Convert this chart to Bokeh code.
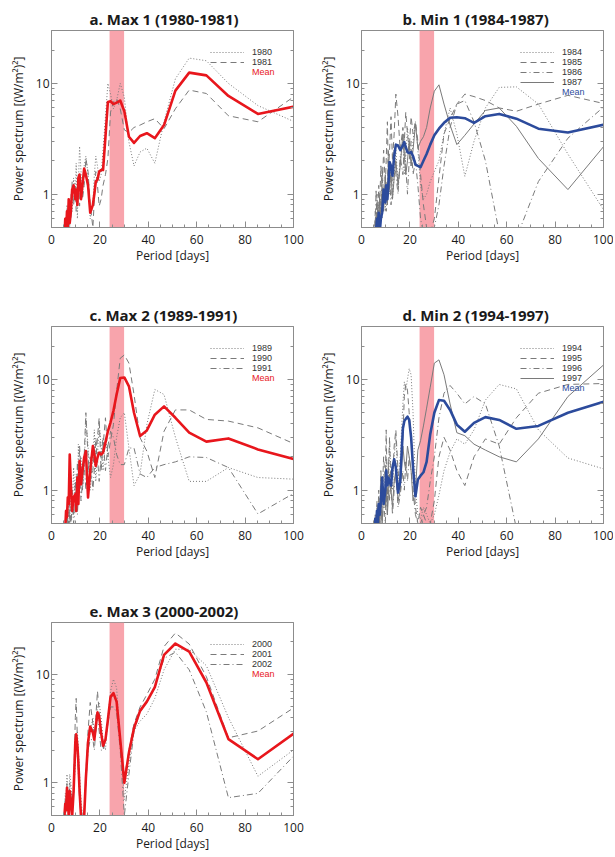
from bokeh.plotting import figure
from bokeh.layouts import gridplot
from bokeh.models import (Range1d, FixedTicker, LogAxis, BoxAnnotation,
                          Legend, LegendItem, NumeralTickFormatter)
from bokeh.embed import file_html
from bokeh.resources import INLINE

# ---------------- data ----------------
PERIOD = [102.4, 85.3, 73.1, 64.0, 56.9, 51.2, 46.5, 42.7, 39.4, 36.6, 34.1, 32.0, 30.1, 28.4, 26.9, 25.6, 24.4,
          23.3, 22.3, 21.3, 20.5, 19.7, 19.0, 18.3, 17.7, 17.1, 16.0, 15.1, 14.2, 13.5, 12.8, 12.2,
          11.6, 11.1, 10.7, 10.2, 9.85, 9.14, 8.53, 8.0, 7.53, 7.11, 6.74, 6.4, 6.02, 5.69, 5.33]
BAND = [24, 30]
X_TICKS = [0, 20, 40, 60, 80, 100]
X_MINOR = [5, 10, 15, 25, 30, 35, 45, 50, 55, 65, 70, 75, 85, 90, 95]
Y_TICKS = [1, 10]
Y_MINOR = [0.5, 0.6, 0.7, 0.8, 0.9, 2, 3, 4, 5, 6, 7, 8, 9, 20, 30]

A_1980 = [4.3, 6.3, 10.0, 16.0, 16.9, 11.0, 4.5, 1.9, 2.6, 2.4, 1.8, 2.95, 7.5, 10.0, 7.0, 5.9, 8.0,
          10.0, 5.0, 2.5, 1.5, 1.3, 1.8, 2.2, 1.5, 0.8, 0.6, 1.5, 2.2, 1.8, 1.0, 1.6,
          2.7, 1.2, 0.6, 1.9, 1.0, 1.4, 0.7, 1.0, 0.5, 0.9, 0.45, 0.8, 0.4, 0.6, 0.4]
A_1981 = [8.2, 4.5, 5.1, 8.1, 8.7, 5.9, 3.9, 4.8, 4.5, 4.2, 4.0, 3.6, 3.8, 5.9, 7.3, 6.8, 5.5,
          2.1, 1.5, 1.2, 0.9, 0.78, 1.2, 1.6, 0.9, 0.5, 0.8, 1.6, 2.1, 1.2, 0.9, 1.2,
          0.78, 1.5, 0.9, 0.7, 1.2, 0.8, 1.3, 0.6, 0.9, 0.5, 0.7, 0.4, 0.6, 0.4, 0.45]
A_MEAN = [6.3, 5.3, 7.7, 11.8, 12.5, 8.6, 4.2, 3.2, 3.55, 3.35, 2.9, 3.3, 5.6, 7.0, 6.7, 6.5, 6.9,
          6.8, 3.3, 1.65, 1.65, 1.6, 1.35, 1.3, 1.0, 0.8, 0.68, 1.2, 1.5, 1.7, 1.2, 0.9,
          1.5, 1.4, 0.8, 1.1, 0.9, 1.2, 1.1, 0.7, 0.55, 0.9, 0.5, 0.7, 0.45, 0.6, 0.4]

B_1984 = [0.6, 2.3, 6.5, 9.3, 9.2, 6.0, 3.0, 1.45, 3.5, 6.0, 3.5, 2.0, 1.6, 1.3, 1.0, 0.9, 1.2,
          2.5, 4.5, 3.0, 1.8, 2.5, 4.0, 2.2, 1.5, 3.0, 2.0, 1.2, 2.5, 1.5, 0.9, 1.8,
          1.0, 1.6, 0.8, 1.3, 0.7, 1.1, 0.6, 0.9, 0.5, 0.8, 0.45, 0.7, 0.4, 0.6, 0.45]
B_1985 = [6.4, 7.8, 6.5, 5.6, 6.0, 7.0, 7.6, 8.0, 6.5, 4.8, 3.5, 1.4, 0.6, 0.45, 0.5, 0.8, 1.5,
          3.0, 4.5, 3.5, 5.0, 2.5, 3.5, 5.5, 3.0, 4.0, 2.5, 5.0, 8.0, 3.5, 2.0, 5.0,
          2.5, 1.5, 4.5, 2.0, 1.2, 2.5, 1.0, 1.8, 0.8, 1.2, 0.6, 1.0, 0.5, 0.7, 0.4]
B_1986 = [6.8, 3.2, 1.3, 0.4, 0.45, 2.0, 4.5, 7.0, 6.5, 4.0, 1.8, 0.8, 0.5, 0.4, 0.4, 0.45, 0.6,
          1.2, 2.0, 1.5, 3.0, 2.0, 1.0, 1.8, 2.8, 1.5, 2.2, 1.0, 1.5, 2.5, 1.2, 0.8,
          1.5, 2.5, 1.0, 0.7, 1.2, 0.9, 1.8, 0.6, 1.0, 0.5, 0.8, 0.45, 1.1, 0.5, 0.4]
B_1987 = [3.1, 1.1, 2.1, 4.1, 6.0, 5.7, 4.3, 3.4, 2.8, 4.2, 6.5, 9.7, 8.5, 6.0, 4.0, 3.3, 3.0,
          2.6, 4.3, 2.5, 1.8, 3.0, 2.0, 1.5, 2.2, 3.5, 1.8, 1.2, 2.0, 1.4, 0.9, 1.6,
          1.1, 2.0, 0.8, 1.0, 1.5, 0.7, 1.1, 0.6, 0.9, 0.5, 0.75, 0.45, 0.6, 0.4, 0.5]
B_MEAN = [4.35, 3.6, 3.9, 4.8, 5.3, 5.05, 4.4, 4.85, 4.95, 4.9, 4.4, 3.9, 3.4, 2.8, 2.3, 2.0, 1.75,
          1.8, 1.85, 2.2, 2.4, 2.35, 2.4, 2.65, 2.95, 2.75, 2.5, 2.75, 2.8, 2.2, 1.47, 1.8,
          1.95, 1.2, 0.9, 1.2, 0.84, 1.1, 0.68, 0.6, 0.45, 0.68, 0.48, 0.6, 0.45, 0.5, 0.4]

C_1989 = [1.25, 1.3, 1.6, 1.2, 1.2, 3.0, 7.3, 8.1, 3.9, 1.4, 1.1, 2.4, 5.0, 4.5, 3.0, 1.7, 1.3,
          2.0, 3.0, 1.5, 2.5, 4.0, 2.0, 1.2, 3.5, 2.0, 1.0, 2.5, 4.5, 1.5, 1.0, 2.0,
          1.2, 2.6, 0.8, 1.4, 0.7, 1.6, 0.6, 1.0, 0.5, 0.8, 0.45, 0.7, 0.4, 0.55, 0.4]
C_1990 = [2.5, 3.65, 4.2, 4.35, 5.3, 5.3, 3.4, 1.3, 2.25, 2.97, 7.3, 14.0, 16.6, 15.5, 7.8, 3.9, 2.8,
          2.0, 4.5, 2.5, 1.5, 4.5, 3.0, 1.8, 2.5, 1.5, 1.2, 2.0, 5.0, 2.0, 1.0, 1.5,
          2.5, 1.0, 1.8, 0.8, 1.2, 0.6, 1.0, 0.5, 0.8, 0.45, 0.7, 0.4, 0.55, 0.4, 0.45]
C_1991 = [1.0, 0.61, 1.6, 1.97, 2.0, 1.8, 1.7, 1.6, 1.3, 1.4, 2.4, 2.4, 1.7, 1.7, 2.1, 3.0, 3.4,
          2.5, 1.5, 3.0, 2.0, 1.2, 2.0, 3.0, 1.5, 1.0, 2.0, 1.5, 1.0, 1.8, 1.2, 0.8,
          1.5, 0.9, 0.6, 1.0, 0.7, 0.5, 0.8, 0.45, 0.6, 0.4, 0.5, 0.4, 0.45, 0.4, 0.4]
C_MEAN = [1.85, 2.33, 2.93, 2.74, 3.3, 4.5, 5.7, 4.8, 3.46, 3.08, 5.0, 8.65, 10.4, 10.3, 7.3, 5.2, 4.1,
          3.4, 2.7, 2.18, 2.1, 2.18, 1.97, 1.65, 2.1, 2.5, 1.5, 0.86, 2.25, 1.97, 1.5, 1.13,
          1.83, 0.75, 1.3, 0.65, 0.92, 0.86, 0.65, 1.13, 2.1, 0.75, 0.86, 0.57, 0.65, 0.45, 0.5]

D_1994 = [1.5, 1.95, 3.5, 8.2, 9.0, 6.5, 3.5, 2.6, 2.9, 2.2, 1.5, 0.9, 0.6, 0.5, 0.6, 0.7, 0.55,
          0.6, 1.0, 5.0, 11.0, 12.5, 10.0, 8.0, 9.5, 6.0, 2.0, 1.2, 3.0, 2.0, 1.0, 1.5,
          2.5, 1.2, 0.8, 2.0, 1.0, 1.4, 0.7, 1.0, 0.5, 0.8, 0.45, 0.7, 0.4, 0.55, 0.4]
D_1995 = [9.2, 9.0, 7.5, 4.5, 2.6, 2.9, 2.0, 1.1, 1.5, 2.3, 3.0, 2.0, 0.8, 0.5, 0.5, 0.6, 0.7,
          0.5, 0.7, 1.5, 3.0, 5.0, 8.0, 9.0, 7.0, 3.0, 1.0, 1.5, 3.5, 2.5, 1.2, 1.0,
          3.0, 1.5, 0.8, 3.5, 1.2, 2.0, 0.8, 1.5, 0.6, 1.0, 0.5, 0.8, 0.45, 0.6, 0.4]
D_1996 = [0.3, 0.3, 0.3, 0.45, 2.5, 6.0, 7.0, 6.0, 7.5, 8.8, 7.5, 4.5, 2.0, 1.2, 0.7, 0.6, 0.5,
          0.5, 0.6, 1.0, 1.5, 2.0, 1.2, 1.8, 1.0, 1.5, 0.9, 0.7, 1.5, 1.0, 0.6, 1.2,
          0.8, 1.8, 0.6, 1.0, 0.5, 0.8, 0.45, 1.2, 0.5, 0.7, 0.4, 0.5, 0.4, 0.45, 0.4]
D_1997 = [15.0, 7.0, 2.9, 1.8, 2.0, 2.3, 2.6, 3.1, 3.3, 6.0, 11.0, 15.0, 14.0, 8.5, 5.5, 3.8, 2.8,
          2.3, 1.0, 0.8, 1.5, 2.0, 2.5, 1.5, 1.8, 2.5, 1.0, 0.8, 1.5, 1.2, 0.7, 1.0,
          1.4, 0.9, 0.6, 1.2, 0.7, 1.0, 0.5, 0.8, 0.45, 0.7, 0.4, 0.6, 0.4, 0.45, 0.4]
D_MEAN = [6.5, 5.0, 3.8, 3.58, 4.3, 4.56, 4.05, 3.37, 3.9, 5.3, 6.4, 6.5, 5.0, 3.2, 1.8, 1.45, 1.35,
          1.25, 0.88, 1.6, 3.0, 4.3, 4.6, 4.4, 4.2, 3.6, 1.2, 0.95, 1.6, 1.9, 1.6, 1.1,
          1.2, 1.3, 1.1, 1.5, 1.0, 0.75, 1.3, 0.8, 0.6, 0.75, 0.5, 0.65, 0.45, 0.55, 0.45]

E_2000 = [2.2, 1.15, 4.0, 12.0, 17.0, 17.0, 11.0, 6.0, 4.3, 3.7, 3.0, 1.5, 0.7, 2.5, 7.5, 9.0, 7.0,
          4.0, 2.0, 2.5, 4.0, 5.5, 5.0, 3.0, 2.5, 4.0, 3.0, 2.0, 1.0, 0.6, 0.5, 0.7,
          1.2, 2.0, 3.0, 2.5, 1.5, 0.8, 0.6, 1.0, 1.2, 0.6, 0.9, 1.2, 0.7, 0.8, 0.5]
E_2001 = [5.3, 3.0, 2.6, 9.5, 19.0, 24.0, 18.0, 9.0, 6.5, 5.0, 3.5, 2.0, 1.1, 2.5, 5.5, 6.5, 6.0,
          3.5, 2.5, 2.0, 3.0, 4.5, 7.0, 4.0, 2.5, 3.5, 5.5, 3.0, 1.2, 0.5, 0.4, 0.5,
          0.9, 1.5, 2.5, 6.0, 4.0, 1.0, 0.5, 0.8, 1.0, 0.5, 0.7, 1.0, 0.6, 0.7, 0.45]
E_2002 = [2.0, 0.8, 0.73, 4.5, 11.0, 16.0, 14.0, 7.5, 5.5, 4.5, 3.0, 1.2, 0.5, 2.0, 4.5, 5.0, 5.0,
          3.5, 2.5, 2.0, 2.0, 3.0, 4.0, 3.0, 2.0, 2.5, 2.5, 2.0, 1.0, 0.5, 0.45, 0.5,
          0.7, 1.2, 2.0, 2.5, 2.0, 0.8, 0.5, 0.7, 0.8, 0.45, 0.6, 0.8, 0.5, 0.6, 0.4]
E_MEAN = [3.1, 1.65, 2.53, 8.4, 16.2, 19.2, 15.1, 7.6, 5.6, 4.6, 3.2, 1.9, 1.0, 2.5, 5.6, 6.7, 6.2,
          3.8, 2.5, 2.2, 2.9, 4.1, 4.45, 3.3, 2.5, 2.9, 3.3, 2.36, 1.1, 0.49, 0.42, 0.49,
          0.84, 1.56, 2.2, 2.8, 2.4, 0.84, 0.49, 0.68, 0.84, 0.49, 0.73, 0.9, 0.56, 0.64, 0.49]

# ---------------- style ----------------
RED = "#e8161c"
BLUE = "#2c4b9c"
GRAY = "#7a7a7a"
PINK = "#f8a4ac"
FRAME = "#8c8c8c"
FONT = "Open Sans"
LEG_FONT = "Liberation Sans"
DASH = {"dotted": "1 2", "dashed": "6 4", "dashdot": "6 3 1 3", "solid": "solid"}
STYLES = ["dotted", "dashed", "dashdot", "solid"]

FRAME_W = 242
TOP = 30
LEFT = 51
X_AXIS_NEED = 39   # space the bottom axis (tick labels + title) needs
ROW = 10           # legend row pitch
LEG_TOP = 17       # legend top, px below the frame top


def style_axis(ax):
    ax.axis_line_color = FRAME
    ax.major_tick_line_color = FRAME
    ax.minor_tick_line_color = FRAME
    ax.major_tick_in = 6
    ax.major_tick_out = 0
    ax.minor_tick_in = 3
    ax.minor_tick_out = 0
    ax.major_label_text_font = FONT
    ax.major_label_text_color = "#1a1a1a"
    ax.major_label_text_font_size = "12px"
    ax.axis_label_text_font = FONT
    ax.axis_label_text_font_style = "normal"
    ax.axis_label_text_font_size = "12px"
    ax.axis_label_text_color = "#1a1a1a"


def bare_axis(ax):
    ax.axis_line_color = FRAME
    ax.major_tick_line_color = FRAME
    ax.minor_tick_line_color = FRAME
    ax.major_tick_in = 6
    ax.major_tick_out = 0
    ax.minor_tick_in = 3
    ax.minor_tick_out = 0
    ax.major_label_text_font_size = "1px"
    ax.major_label_text_alpha = 0
    ax.major_label_standoff = 0


def one_row_legend(p, label, renderer, color, row, frame_h):
    leg = Legend(items=[LegendItem(label=label, renderers=[renderer])],
                 border_line_color=None, background_fill_alpha=0, padding=0, margin=0,
                 spacing=0, glyph_width=34, glyph_height=ROW, label_height=ROW,
                 label_standoff=8, label_text_font=LEG_FONT, label_text_font_size="9px",
                 label_text_baseline="middle", label_text_color=color)
    # tuple location = bottom-left corner of the legend, measured from the frame's bottom-left
    leg.location = (159, frame_h - LEG_TOP - ROW * (row + 1))
    p.add_layout(leg)


def panel(title, years, series, mean, mean_color, width, height, bottom, title_offset):
    frame_h = height - TOP - max(bottom, X_AXIS_NEED)
    p = figure(width=width, height=height, x_range=Range1d(0, 100), y_range=Range1d(0.5, 30),
               y_axis_type="log", output_backend="svg", toolbar_location=None,
               min_border_left=LEFT, min_border_top=TOP,
               min_border_right=width - LEFT - FRAME_W,
               min_border_bottom=bottom)
    p.grid.visible = False
    p.outline_line_color = FRAME
    p.background_fill_color = "white"
    p.border_fill_color = "white"

    p.title.text = title
    p.title.align = "left"
    p.title.offset = title_offset
    p.title.text_font = FONT
    p.title.text_font_size = "15px"
    p.title.text_font_style = "bold"
    p.title.text_color = "#1a1a1a"
    p.title.standoff = 4

    xa = p.xaxis[0]
    xa.ticker = FixedTicker(ticks=X_TICKS, minor_ticks=X_MINOR)
    xa.axis_label = "Period [days]"
    xa.major_label_standoff = 7
    xa.axis_label_standoff = 0
    style_axis(xa)

    ya = p.yaxis[0]
    ya.ticker = FixedTicker(ticks=Y_TICKS, minor_ticks=Y_MINOR)
    ya.formatter = NumeralTickFormatter(format="0")
    ya.axis_label = "Power spectrum [(W/m²)²]"
    ya.major_label_standoff = 2
    ya.axis_label_standoff = 6
    style_axis(ya)

    ra = LogAxis(ticker=FixedTicker(ticks=Y_TICKS, minor_ticks=Y_MINOR),
                 major_label_overrides={1: "", 10: ""})
    bare_axis(ra)
    p.add_layout(ra, "right")

    p.add_layout(BoxAnnotation(left=BAND[0], right=BAND[1], fill_color=PINK, fill_alpha=1.0,
                               line_color=None, level="underlay"))

    for i, (yr, vals, st) in enumerate(zip(years, series, STYLES)):
        r = p.line(PERIOD, vals, line_color=GRAY, line_width=1, line_dash=DASH[st])
        one_row_legend(p, yr, r, "#333333", i, frame_h)
    p.line(PERIOD, mean, line_color=mean_color, line_width=2.6, line_join="round")
    # thin sample line for the legend key, as in the original
    key = p.line([], [], line_color=mean_color, line_width=1)
    one_row_legend(p, "Mean", key, mean_color, len(years), frame_h)
    return p


pa = panel("a. Max 1 (1980-1981)", ["1980", "1981"], [A_1980, A_1981], A_MEAN, RED, 310, 296, 69, 38)
pb = panel("b. Min 1 (1984-1987)", ["1984", "1985", "1986", "1987"],
           [B_1984, B_1985, B_1986, B_1987], B_MEAN, BLUE, 303, 296, 69, 41)
pc = panel("c. Max 2 (1989-1991)", ["1989", "1990", "1991"], [C_1989, C_1990, C_1991], C_MEAN, RED,
           310, 296, 69, 38)
pd_ = panel("d. Min 2 (1994-1997)", ["1994", "1995", "1996", "1997"],
            [D_1994, D_1995, D_1996, D_1997], D_MEAN, BLUE, 303, 296, 69, 41)
pe = panel("e. Max 3 (2000-2002)", ["2000", "2001", "2002"], [E_2000, E_2001, E_2002], E_MEAN, RED,
           310, 262, 32, 38)

layout = gridplot([[pa, pb], [pc, pd_], [pe, None]], toolbar_location=None)

open("out.html", "w").write(file_html(layout, INLINE))
